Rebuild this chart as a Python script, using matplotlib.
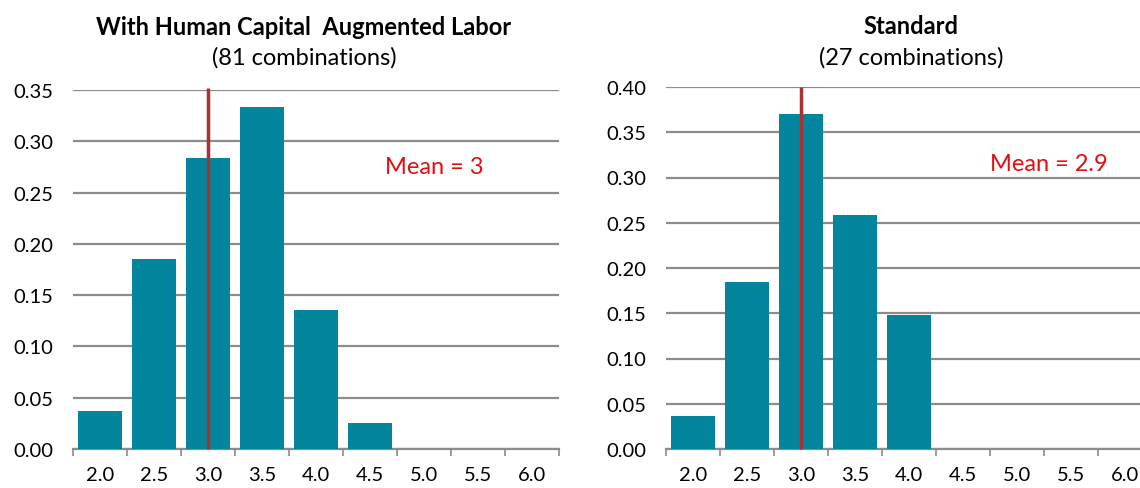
import matplotlib.pyplot as plt
import numpy as np

plt.rcParams['font.family'] = ['Lato', 'DejaVu Sans']

categories = ['2.0', '2.5', '3.0', '3.5', '4.0', '4.5', '5.0', '5.5', '6.0']
human_capital = [0.037, 0.185, 0.284, 0.333, 0.136, 0.025, 0, 0, 0]
standard = [0.037, 0.185, 0.370, 0.259, 0.148, 0, 0, 0, 0]
mean_bin = '3.0'

bar_color = '#02859D'
line_color = '#A83232'
grid_color = '#8C8C8C'

fig = plt.figure(figsize=(11.4, 4.89), dpi=100)
W, H = 1140, 489


def make_axes(x0, x1, ytop, ybot):
    return fig.add_axes([x0 / W, 1 - ybot / H, (x1 - x0) / W, (ybot - ytop) / H])


def draw_panel(ax, values, ymax, step, title, subtitle, tx, t1, t2, mean_text, mx, my, line_top):
    x = np.arange(len(categories))
    ax.bar(x, values, width=0.81, color=bar_color, zorder=3)
    ax.set_xlim(-0.5, len(categories) - 0.5)
    ax.set_ylim(0, ymax)
    yt = np.arange(0, ymax + 1e-9, step)
    ax.set_yticks(yt)
    ax.set_yticklabels(['%.2f' % v for v in yt])
    ax.yaxis.grid(True, color=grid_color, lw=1.6, zorder=0)
    ax.set_axisbelow(True)
    ax.set_xticks(x)
    ax.set_xticklabels(categories)
    ax.set_xticks(np.arange(-0.5, len(categories)), minor=True)
    ax.tick_params(axis='x', which='major', length=0, pad=12, labelsize=14.5)
    ax.tick_params(axis='x', which='minor', length=5, width=1.2, color=grid_color, direction='out')
    ax.tick_params(axis='y', length=0, pad=14, labelsize=14.5)
    for s in ['top', 'right', 'left']:
        ax.spines[s].set_visible(False)
    ax.spines['bottom'].set_color(grid_color)
    ax.spines['bottom'].set_linewidth(1.6)
    mi = categories.index(mean_bin)
    ax.plot([mi, mi], [0, line_top], color=line_color, lw=2.5, zorder=4, clip_on=False,
            solid_capstyle='butt')
    ax.text(mx, my, mean_text, color='#E01010', fontsize=17, ha='left', va='center')
    ax.text(tx, t1, title, transform=ax.transAxes, ha='center', va='center',
            fontsize=17, fontweight='bold')
    ax.text(tx, t2, subtitle, transform=ax.transAxes, ha='center', va='center',
            fontsize=17)


ax1 = make_axes(73, 559, 91, 450)
draw_panel(ax1, human_capital, 0.35, 0.05, 'With Human Capital  Augmented Labor',
           '(81 combinations)', 0.475, 1.178, 1.092, 'Mean = 3', 5.28, 0.275, 0.352)

ax2 = make_axes(666, 1152, 88, 450)
draw_panel(ax2, standard, 0.40, 0.05, 'Standard', '(27 combinations)', 0.504, 1.169, 1.083,
           'Mean = 2.9', 5.5, 0.315, 0.40)

fig.savefig('out.png', dpi=100)
